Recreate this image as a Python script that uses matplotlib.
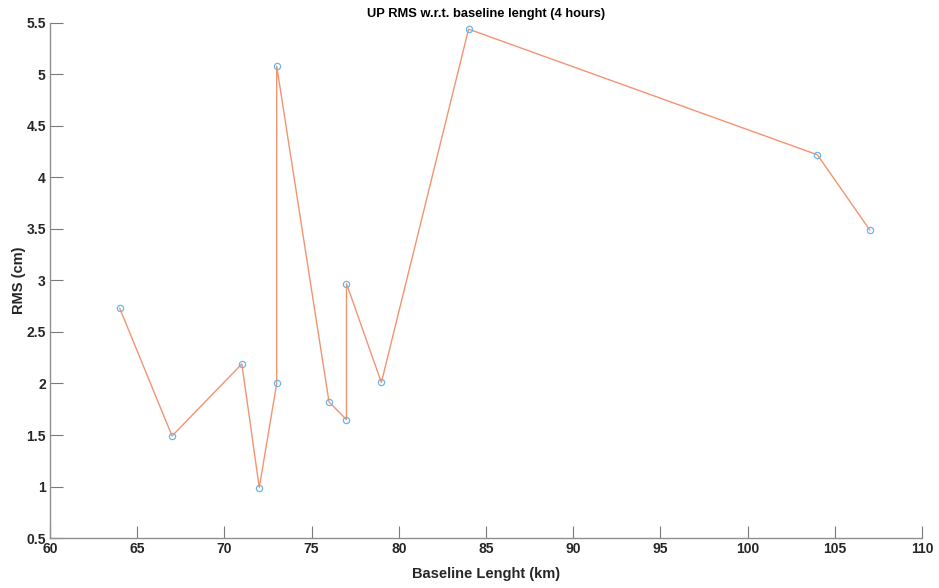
import matplotlib.pyplot as plt

# baseline length (km) and UP RMS (cm), in plotting order
baseline_km = [64, 67, 71, 72, 73, 73, 76, 77, 77, 79, 84, 104, 107]
rms_cm = [2.73, 1.49, 2.19, 0.99, 2.00, 5.08, 1.82, 1.65, 2.97, 2.01, 5.44, 4.22, 3.49]

plt.rcParams['font.family'] = ['Liberation Sans', 'DejaVu Sans']
plt.rcParams['font.weight'] = 'bold'

fig = plt.figure(figsize=(9.39, 5.88), dpi=100)
ax = fig.add_axes([0.0532, 0.085, 0.9288, 0.876])

ax.plot(baseline_km, rms_cm, color='#f39470', lw=1.0, zorder=2)
ax.plot(baseline_km, rms_cm, ls='none', marker='o', ms=4.5, mfc='none',
        mec='#6ab6ea', mew=0.9, zorder=3)

ax.set_xlim(60, 110)
ax.set_ylim(0.5, 5.5)
ax.set_xticks(range(60, 111, 5))
ax.set_yticks([0.5, 1, 1.5, 2, 2.5, 3, 3.5, 4, 4.5, 5, 5.5])
ax.set_yticklabels(['0.5', '1', '1.5', '2', '2.5', '3', '3.5', '4', '4.5', '5', '5.5'])

for s in ['top', 'right']:
    ax.spines[s].set_visible(False)
for s in ['left', 'bottom']:
    ax.spines[s].set_color('#8f8f8f')
    ax.spines[s].set_linewidth(1.0)
ax.tick_params(direction='in', length=9, width=0.8, color='#7a7a7a',
               labelsize=10, labelcolor='#262626', pad=3)

ax.set_xlabel('Baseline Lenght (km)', fontsize=10.5, fontweight='bold', color='#262626', labelpad=8)
ax.set_ylabel('RMS (cm)', fontsize=10.5, fontweight='bold', color='#262626', labelpad=0)
ax.set_title('UP RMS w.r.t. baseline lenght (4 hours)', fontsize=9.3, fontweight='bold', pad=4)

fig.savefig('out.png', dpi=100)
